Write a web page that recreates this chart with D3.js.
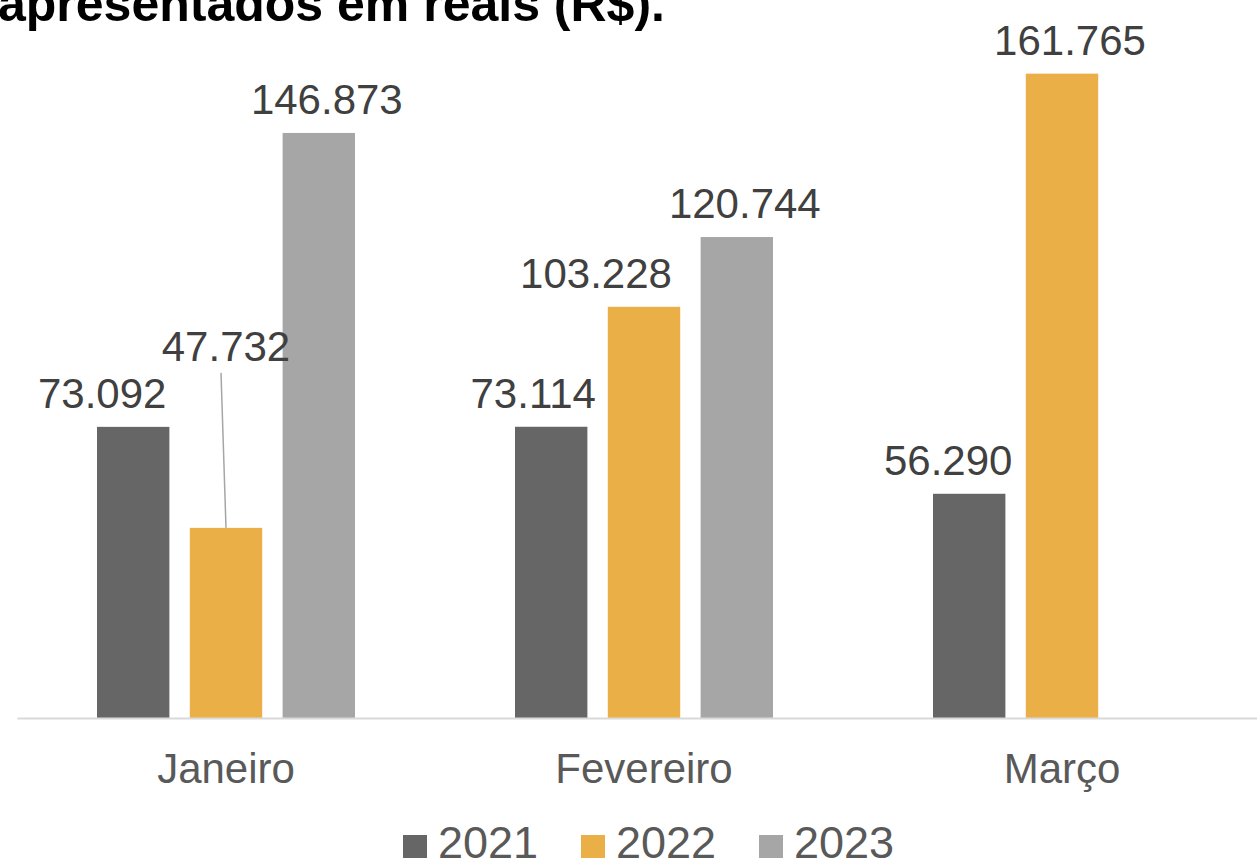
<!DOCTYPE html>
<html>
<head>
<meta charset="utf-8">
<script src="https://cdn.jsdelivr.net/npm/d3@7"></script>
<style>
    html, body { margin: 0; padding: 0; background: #fff; }
    svg { display: block; font-family: 'Liberation Sans', Arial, sans-serif; }
</style>
</head>
<body>
<svg id="chart" width="1257" height="862"></svg>
<script>
const months = ['Janeiro', 'Fevereiro', 'Março'];
const years = ['2021', '2022', '2023'];
const values2021 = [73092, 73114, 56290];
const values2022 = [47732, 103228, 161765];
const values2023 = [146873, 120744, null];
const yMax = 180000;

const seriesColors = ['#666666', '#eaaf47', '#a6a6a6'];
// hand-moved data labels, like in the source sheet (dx, dy in px)
const labelShift = [
    [[-31, 0], [-18, 0], [-21, 0]],
    [[0, -148], [-48, 0], [8, 0]],
    [[8, 0], [8, 0], [0, 0]],
];

const BASELINE = 718;
const LABEL_GAP = 19;

const fmt = d3.formatLocale({ decimal: ',', thousands: '.', grouping: [3], currency: ['R$', ''] }).format(',d');
const seriesValues = [values2021, values2022, values2023];

const chart = d3.select('#chart');

chart
    .append('text')
    .attr('x', -2)
    .attr('y', 21)
    .attr('font-size', 50)
    .attr('font-weight', 'bold')
    .attr('fill', '#000')
    .text('apresentados em reais (R$).');

const xCoord = d3.scaleBand().domain(months).range([17, 17 + 3 * 418]);
const xInner = d3.scaleBand().domain(years).range([80, 338]).paddingInner(0.22);
const yCoord = d3.scaleLinear().domain([0, yMax]).range([BASELINE, 1]);

const bars = [];
years.forEach((year, s) => {
    months.forEach((month, m) => {
        const v = seriesValues[s][m];
        if (v == null) return;
        bars.push({ year, month, value: v, s, m, shift: labelShift[s][m] });
    });
});

const barX = d => xCoord(d.month) + xInner(d.year);

chart
    .append('g')
    .attr('class', 'chart-bars')
    .selectAll('rect')
    .data(bars)
    .join('rect')
    .attr('x', barX)
    .attr('y', d => yCoord(d.value))
    .attr('width', xInner.bandwidth())
    .attr('height', d => BASELINE - yCoord(d.value))
    .attr('fill', d => seriesColors[d.s]);

// axis
const xAxis = chart
    .append('g')
    .attr('class', 'axis axis--x')
    .attr('transform', `translate(0, ${BASELINE})`)
    .call(d3.axisBottom(xCoord).tickSize(0).tickPadding(35));

xAxis.select('.domain').attr('stroke', '#d9d9d9').attr('stroke-width', 2);
xAxis
    .selectAll('.tick text')
    .attr('font-size', 42)
    .attr('font-family', "'Liberation Sans', Arial, sans-serif")
    .attr('fill', '#595959');

// leader lines for moved labels
chart
    .append('g')
    .attr('class', 'chart-leaders')
    .selectAll('line')
    .data(bars.filter(d => d.shift[1] < -40))
    .join('line')
    .attr('x1', d => barX(d) + xInner.bandwidth() / 2 - 5)
    .attr('y1', d => yCoord(d.value) - LABEL_GAP + d.shift[1] + 12)
    .attr('x2', d => barX(d) + xInner.bandwidth() / 2)
    .attr('y2', d => yCoord(d.value))
    .attr('stroke', '#a6a6a6')
    .attr('stroke-width', 1.5);

chart
    .append('g')
    .attr('class', 'chart-labels')
    .selectAll('text')
    .data(bars)
    .join('text')
    .attr('x', d => barX(d) + xInner.bandwidth() / 2 + d.shift[0])
    .attr('y', d => yCoord(d.value) - LABEL_GAP + d.shift[1])
    .attr('text-anchor', 'middle')
    .attr('font-size', 42)
    .attr('fill', '#404040')
    .text(d => fmt(d.value));

// legend
const legend = chart
    .append('g')
    .attr('class', 'legend')
    .attr('transform', 'translate(403, 858)');

const legendItem = legend
    .selectAll('g')
    .data(years)
    .join('g')
    .attr('transform', (d, i) => `translate(${i * 178}, 0)`);

legendItem
    .append('rect')
    .attr('x', 0)
    .attr('y', -23)
    .attr('width', 24)
    .attr('height', 23)
    .attr('fill', (d, i) => seriesColors[i]);

legendItem
    .append('text')
    .attr('x', 35)
    .attr('y', 0)
    .attr('font-size', 45)
    .attr('fill', '#595959')
    .text(d => d);
</script>
</body>
</html>
